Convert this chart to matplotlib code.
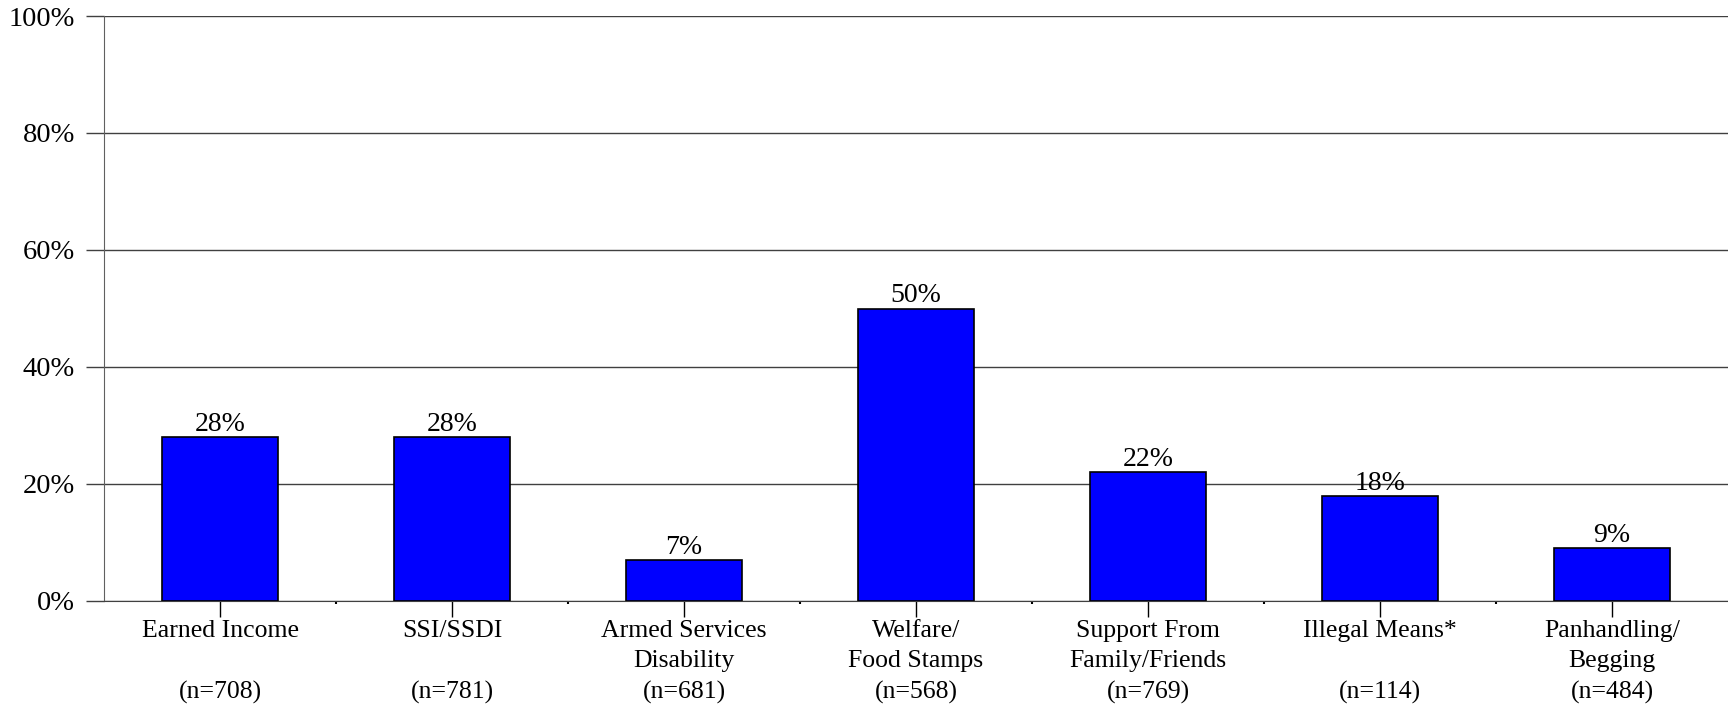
import matplotlib
matplotlib.use("Agg")
from matplotlib import pyplot as plt
from matplotlib.ticker import FixedLocator
import numpy as np

# income sources
categories = ["Earned Income\n\n(n=708)", "SSI/SSDI\n\n(n=781)",
              "Armed Services\nDisability\n(n=681)", "Welfare/\nFood Stamps\n(n=568)",
              "Support From\nFamily/Friends\n(n=769)", "Illegal Means*\n\n(n=114)",
              "Panhandling/\nBegging\n(n=484)"]
pct = [28, 28, 7, 50, 22, 18, 9]
yticks = [0, 20, 40, 60, 80, 100]

plt.rcParams['font.family'] = ['Liberation Serif', 'DejaVu Serif']

fig = plt.figure(figsize=(17.28, 7.04), dpi=100)
ax = fig.add_axes([104/1728, 1 - 601/704, 1 - 104/1728, (601 - 16)/704])

x = np.arange(len(pct))
bars = ax.bar(x, pct, width=0.5, color='#0000ff', edgecolor='#000000', linewidth=1.2, zorder=3)
for b, v in zip(bars, pct):
    ax.text(b.get_x() + b.get_width()/2, v, f'{v}%', ha='center', va='bottom',
            fontsize=20, zorder=4)

ax.set_xlim(-0.5, len(pct) - 0.5)
ax.set_ylim(0, 100)
ax.set_yticks(yticks)
ax.set_yticklabels([f'{t}%' for t in yticks], fontsize=20.5)
ax.yaxis.grid(True, color='#404040', linewidth=1.0, zorder=0)
ax.tick_params(axis='y', direction='out', length=13, width=1.0, color='#404040', pad=8)

ax.set_xticks(x)
ax.set_xticklabels(categories, fontsize=18.5, linespacing=1.5, va='top')
ax.tick_params(axis='x', direction='out', length=11.5, width=1.0, color='black', pad=2)
ax.xaxis.set_minor_locator(FixedLocator(x[:-1] + 0.5))
ax.tick_params(axis='x', which='minor', length=2, width=1.5, color='black')

for s in ['top', 'right']:
    ax.spines[s].set_visible(False)
ax.spines['left'].set_color('#606060')
ax.spines['bottom'].set_color('#404040')

fig.savefig('out.png', dpi=100)
